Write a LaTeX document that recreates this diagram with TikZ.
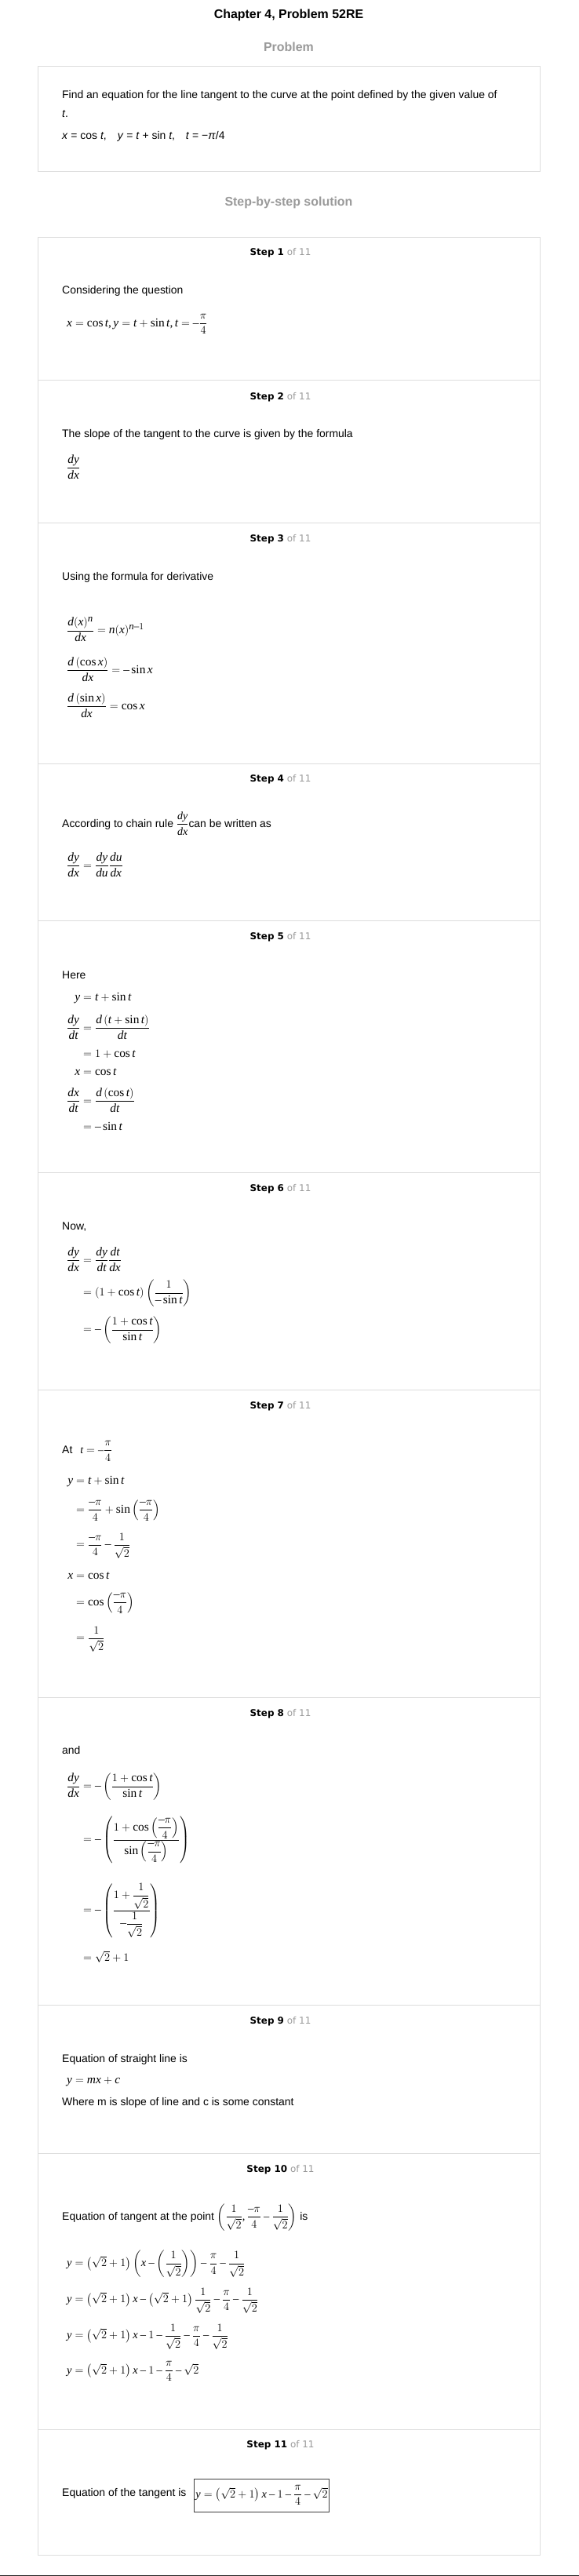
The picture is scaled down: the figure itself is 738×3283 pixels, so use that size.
\documentclass[tikz,border=0pt]{standalone}
\usepackage{fontspec}
\setmainfont{Liberation Serif}
\setsansfont{Liberation Sans}
\newfontfamily\hdrfont{DejaVu Sans}
\usepackage{mathtools}
\usepackage[italic]{mathastext}
\definecolor{boxgray}{HTML}{DDDDDD}
\definecolor{headgray}{HTML}{9A9A9A}
\definecolor{ofgray}{HTML}{9A9A9A}
\begin{document}
\begin{tikzpicture}[x=1bp,y=-1bp,
  txt/.style={anchor=mid west,inner sep=0pt,font=\fontsize{14}{16}\selectfont\sffamily},
  mth/.style={anchor=west,inner sep=0pt,font=\fontsize{15.5}{17}\selectfont},
  mthsmall/.style={anchor=west,inner sep=0pt,font=\fontsize{14.5}{16}\selectfont},
  stephdr/.style={anchor=mid,inner sep=0pt,font=\fontsize{12}{14}\selectfont\hdrfont},
  bigtitle/.style={anchor=mid,inner sep=0pt,font=\fontsize{16}{18}\selectfont\sffamily\bfseries},
  frame/.style={draw=boxgray,line width=1bp}]
\useasboundingbox (0,0) rectangle (738,3283);
\fill[white] (0,0) rectangle (738,3283);

\node[bigtitle] (title) at (368,21.7) {Chapter 4, Problem 52RE};
\node[bigtitle,text=headgray] (probhead) at (368,63) {Problem};
\draw[frame] (48.5,84.5) rectangle (688,218);
\node[txt] (q1) at (79,123) {Find an equation for the line tangent to the curve at the point defined by the given value of};
\node[txt] (q2) at (79,147) {\textit{t}.};
\node[txt] (q3) at (79,175) {\textit{x} = cos \textit{t},\quad \textit{y} = \textit{t} + sin \textit{t},\quad \textit{t} = −\textit{π}/4};

\node[bigtitle,text=headgray] (sbs) at (368,260) {Step-by-step solution};
\draw[frame] (48.5,302) rectangle (688,3256);
\foreach \y in {484,666.5,973,1173,1494,1771,2163,2555,2744,3096} \draw[frame] (48.5,\y) -- (688,\y);
\foreach \n/\y in {1/323,2/507,3/688,4/994,5/1195,6/1516,7/1793,8/2185,9/2577,10/2766,11/3117}
  \node[stephdr] (h\n) at (357.5,\y) {\textbf{Step \n} \textcolor{ofgray}{of 11}};

% Step 1
\node[txt] (s1t) at (79,372) {Considering the question};
\node[mth] (s1m) at (85,413) {$x=\cos t,y=t+\sin t,t=-\dfrac{\pi}{4}$};
% Step 2
\node[txt] (s2t) at (79,555) {The slope of the tangent to the curve is given by the formula};
\node[mth] (s2m) at (85,595) {$\dfrac{dy}{dx}$};
% Step 3
\node[txt] (s3t) at (79,737) {Using the formula for derivative};
\node[mth] (s3a) at (85,802) {$\dfrac{d(x)^n}{dx}=n(x)^{n-1}$};
\node[mth] (s3b) at (85,853) {$\dfrac{d\left(\cos x\right)}{dx}=-\sin x$};
\node[mth] (s3c) at (85,899) {$\dfrac{d\left(\sin x\right)}{dx}=\cos x$};
% Step 4
\node[txt] (s4t) at (79,1052) {According to chain rule $\dfrac{dy}{dx}$can be written as};
\node[mth] (s4m) at (85,1102) {$\dfrac{dy}{dx}=\dfrac{dy}{du}\dfrac{du}{dx}$};
% Step 5
\node[txt] (s5t) at (79,1245) {Here};
\node[mth] (s5a) at (102,1272) {$\mathllap{y}=t+\sin t$};
\node[mth] (s5b) at (102,1309) {$\mathllap{\dfrac{dy}{dt}}=\dfrac{d\left(t+\sin t\right)}{dt}$};
\node[mth] (s5c) at (102,1343) {${}=1+\cos t$};
\node[mth] (s5d) at (102,1366) {$\mathllap{x}=\cos t$};
\node[mth] (s5e) at (102,1402) {$\mathllap{\dfrac{dx}{dt}}=\dfrac{d\left(\cos t\right)}{dt}$};
\node[mth] (s5f) at (102,1435) {${}=-\sin t$};
% Step 6
\node[txt] (s6t) at (79,1565) {Now,};
\node[mth] (s6a) at (102,1605) {$\mathllap{\dfrac{dy}{dx}}=\dfrac{dy}{dt}\dfrac{dt}{dx}$};
\node[mth] (s6b) at (102,1648) {${}=\left(1+\cos t\right)\left(\dfrac{1}{-\sin t}\right)$};
\node[mth] (s6c) at (102,1695) {${}=-\left(\dfrac{1+\cos t}{\sin t}\right)$};
% Step 7
\node[txt] (s7t) at (79,1850) {At\hspace{10bp}$t=-\dfrac{\pi}{4}$};
\node[mth] (s7a) at (93,1888) {$\mathllap{y}=t+\sin t$};
\node[mth] (s7b) at (93,1925) {${}=\dfrac{-\pi}{4}+\sin\left(\dfrac{-\pi}{4}\right)$};
\node[mth] (s7c) at (93,1970) {${}=\dfrac{-\pi}{4}-\dfrac{1}{\sqrt{2}}$};
\node[mth] (s7d) at (93,2008) {$\mathllap{x}=\cos t$};
\node[mth] (s7e) at (93,2043) {${}=\cos\left(\dfrac{-\pi}{4}\right)$};
\node[mth] (s7f) at (93,2089) {${}=\dfrac{1}{\sqrt{2}}$};
% Step 8
\node[txt] (s8t) at (79,2233) {and};
\node[mth] (s8a) at (102,2277) {$\mathllap{\dfrac{dy}{dx}}=-\left(\dfrac{1+\cos t}{\sin t}\right)$};
\node[mth] (s8b) at (102,2345) {${}=-\left(\dfrac{1+\cos\left(\dfrac{-\pi}{4}\right)}{\sin\left(\dfrac{-\pi}{4}\right)}\right)$};
\node[mth] (s8c) at (102,2435) {${}=-\left(\dfrac{1+\dfrac{1}{\sqrt{2}}}{-\dfrac{1}{\sqrt{2}}}\right)$};
\node[mth] (s8d) at (102,2494) {${}=\sqrt{2}+1$};
% Step 9
\node[txt] (s9t) at (79,2626) {Equation of straight line is};
\node[mth] (s9m) at (85,2653) {$y=mx+c$};
\node[txt] (s9w) at (79,2681) {Where m is slope of line and c is some constant};
% Step 10
\node[txt] (s10t) at (79,2827) {Equation of tangent at the point {\fontsize{14.5}{16}\selectfont$\left(\dfrac{1}{\sqrt{2}},\dfrac{-\pi}{4}-\dfrac{1}{\sqrt{2}}\right)$} is};
\node[mthsmall] (s10a) at (85,2885) {$y=\left(\sqrt{2}+1\right)\left(x-\left(\dfrac{1}{\sqrt{2}}\right)\right)-\dfrac{\pi}{4}-\dfrac{1}{\sqrt{2}}$};
\node[mthsmall] (s10b) at (85,2932) {$y=\left(\sqrt{2}+1\right)x-\left(\sqrt{2}+1\right)\dfrac{1}{\sqrt{2}}-\dfrac{\pi}{4}-\dfrac{1}{\sqrt{2}}$};
\node[mthsmall] (s10c) at (85,2978) {$y=\left(\sqrt{2}+1\right)x-1-\dfrac{1}{\sqrt{2}}-\dfrac{\pi}{4}-\dfrac{1}{\sqrt{2}}$};
\node[mthsmall] (s10d) at (85,3022) {$y=\left(\sqrt{2}+1\right)x-1-\dfrac{\pi}{4}-\sqrt{2}$};
% Step 11
\node[txt] (s11t) at (79,3179) {Equation of the tangent is};
\node[mthsmall,draw=black!75,line width=0.8bp,inner sep=2bp,minimum height=42bp] (s11m) at (247,3180) {$y=\left(\sqrt{2}+1\right)x-1-\dfrac{\pi}{4}-\sqrt{2}$};

\draw[line width=1.5bp,black!85] (0,3282.25) -- (738,3282.25);
\end{tikzpicture}
\end{document}
